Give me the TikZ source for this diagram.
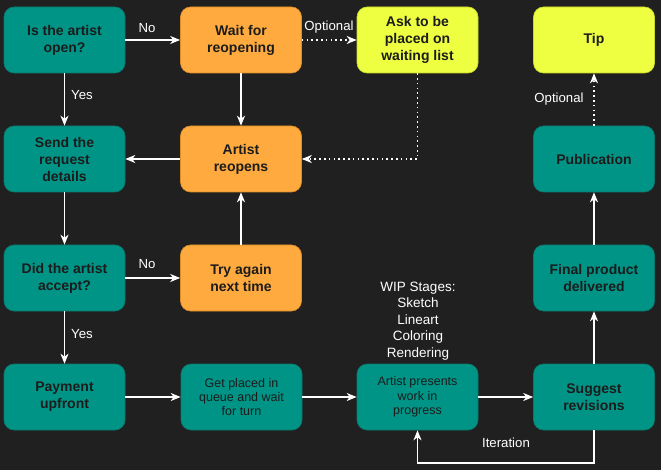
\documentclass[tikz,border=0pt]{standalone}
\usepackage{fontspec}
\setmainfont{Liberation Sans}
\usetikzlibrary{arrows.meta}
\definecolor{bg}{RGB}{32,32,32}
\definecolor{teal1}{RGB}{0,148,134}
\definecolor{teal2}{RGB}{10,120,108}
\definecolor{orng}{RGB}{255,170,62}
\definecolor{orng2}{RGB}{220,140,40}
\definecolor{ylw}{RGB}{238,255,65}
\definecolor{ylw2}{RGB}{200,215,40}
\definecolor{ink}{RGB}{28,28,28}
\tikzset{
  box/.style={rounded corners=10pt, minimum width=121pt, minimum height=66pt, align=center,
    text=ink, inner sep=2pt, line width=0.6pt, font=\fontsize{14}{17}\selectfont\bfseries},
  tbox/.style={box, fill=teal1, draw=teal2},
  obox/.style={box, fill=orng, draw=orng2},
  ybox/.style={box, fill=ylw, draw=ylw2},
  light/.style={font=\fontsize{12.5}{14.3}\selectfont},
  conn/.style={draw=white, line width=1.3pt, -{Stealth[length=10pt,width=8pt,inset=3pt]}},
  dotconn/.style={conn, dash pattern=on 1.6pt off 3.2pt},
  lbl/.style={text=white, font=\fontsize{13.2}{15}\selectfont, inner sep=1pt, fill=bg},
}
\begin{document}
\begin{tikzpicture}[x=1pt,y=-1pt]
\fill[bg] (0,0) rectangle (661,470);
\useasboundingbox (0,0) rectangle (661,470);

\node[tbox] (open) at (64.5,40) {Is the artist\\open?};
\node[obox] (wait) at (241,40) {Wait for\\reopening};
\node[ybox] (ask) at (417.5,40) {Ask to be\\placed on\\waiting list};
\node[ybox] (tip) at (594,40) {Tip};

\node[tbox] (send) at (64.5,159) {Send the\\request\\details};
\node[obox] (reopen) at (241,159) {Artist\\reopens};
\node[tbox] (pub) at (594,159) {Publication};

\node[tbox] (did) at (64.5,278) {Did the artist\\accept?};
\node[obox] (try) at (241,278) {Try again\\next time};
\node[tbox] (final) at (594,278) {Final product\\delivered};

\node[tbox] (pay) at (64.5,397) {Payment\\upfront};
\node[tbox, light] (queue) at (241.5,397) {Get placed in\\queue and wait\\for turn};
\node[tbox, light] (wip) at (417.5,397) {Artist presents\\work in\\progress};
\node[tbox] (sug) at (594,397) {Suggest\\revisions};

\node[text=white, align=center, font=\fontsize{13.5}{16.5}\selectfont, inner sep=0pt] (stages) at (418,321)
  {WIP Stages:\\Sketch\\Lineart\\Coloring\\Rendering};

\coordinate (l1) at (417.5,159);
\coordinate (l2) at (594,463);
\coordinate (l3) at (417.5,463);

\draw[conn] (open) -- (wait);
\draw[conn] (open) -- (send);
\draw[conn] (wait) -- (reopen);
\draw[dotconn] (wait) -- (ask);
\draw[dotconn] (ask) -- (l1) -- (reopen);
\draw[conn] (reopen) -- (send);
\draw[conn] (send) -- (did);
\draw[conn] (did) -- (try);
\draw[conn] (try) -- (reopen);
\draw[conn] (did) -- (pay);
\draw[conn] (pay) -- (queue);
\draw[conn] (queue) -- (wip);
\draw[conn] (wip) -- (sug);
\draw[conn] (sug.south) -- (l2) -- (l3) -- (wip.south);
\draw[conn] (sug) -- (final);
\draw[conn] (final) -- (pub);
\draw[dotconn] (pub) -- (tip);

\node[lbl] (no1) at (147,28) {No};
\node[lbl] (yes1) at (82,95) {Yes};
\node[lbl] (opt1) at (329,27) {Optional};
\node[lbl] (opt2) at (559,99) {Optional};
\node[lbl] (no2) at (147,264) {No};
\node[lbl] (yes2) at (82,334) {Yes};
\node[lbl, fill=none] (iter) at (506,443) {Iteration};
\end{tikzpicture}
\end{document}
